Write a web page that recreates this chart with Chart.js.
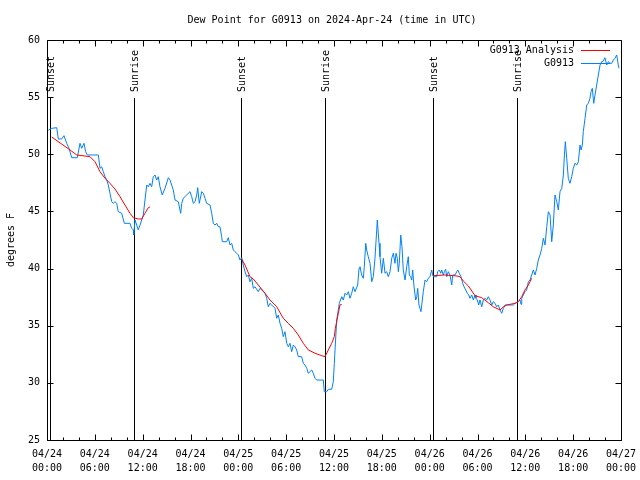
<!DOCTYPE html>
<html>
<head>
<meta charset="utf-8">
<script src="https://cdn.jsdelivr.net/npm/chart.js@4/dist/chart.umd.min.js"></script>
<style>
html,body{margin:0;padding:0;background:#fff;}
canvas{display:block;}
</style>
</head>
<body>
<canvas id="c" width="640" height="480"></canvas>
<script>
// Hours since 2024-04-24 00:00 UTC
const xTickDates = ["04/24","04/24","04/24","04/24","04/25","04/25","04/25","04/25","04/26","04/26","04/26","04/26","04/27"];
const xTickTimes = ["00:00","06:00","12:00","18:00","00:00","06:00","12:00","18:00","00:00","06:00","12:00","18:00","00:00"];

const sunLabels = ["Sunset","Sunrise","Sunset","Sunrise","Sunset","Sunrise"];
const sunHours  = [0.41, 10.95, 24.37, 34.91, 48.46, 58.99];

const blueHours = [0.16,0.59,1.22,1.42,1.84,2.13,2.47,2.76,3.10,3.80,4.14,4.35,4.64,4.85,5.06,6.44,6.65,6.86,7.06,7.28,7.49,7.69,7.90,8.12,8.32,8.53,8.74,8.94,9.37,9.70,10.41,10.62,10.83,10.88,11.04,11.25,11.45,11.67,11.88,12.08,12.29,12.51,12.71,12.92,13.13,13.33,13.55,13.76,13.96,14.17,14.46,14.80,15.22,15.43,15.64,15.84,16.06,16.47,16.68,16.77,16.90,17.10,17.52,17.94,18.15,18.35,18.57,18.78,18.90,19.10,19.41,19.61,19.82,20.03,20.45,20.66,20.86,21.07,21.29,21.49,21.70,21.91,21.99,22.54,22.74,22.96,23.17,23.37,23.58,23.80,24.00,24.21,24.42,24.62,24.84,25.05,25.25,25.46,25.68,25.88,26.09,26.50,26.72,27.35,27.56,27.76,27.97,28.19,28.60,28.81,29.01,29.23,29.44,29.64,29.85,30.07,30.27,30.48,30.69,30.90,31.11,31.32,31.52,31.95,32.15,32.36,32.58,32.78,33.20,33.40,33.62,33.83,34.66,34.78,35.09,35.29,35.71,35.91,36.04,36.13,36.34,36.54,36.67,36.88,36.97,37.17,37.38,37.59,37.80,38.01,38.22,38.42,38.64,38.97,39.14,39.26,39.47,39.68,39.80,39.98,40.10,40.30,40.52,40.73,40.93,41.14,41.36,41.43,41.65,41.77,41.98,42.19,42.40,42.61,42.81,43.03,43.24,43.44,43.65,43.78,43.94,44.07,44.19,44.37,44.53,44.69,44.91,45.12,45.32,45.45,45.62,45.75,45.87,46.04,46.25,46.38,46.50,46.66,46.91,47.08,47.20,47.42,47.63,47.83,48.04,48.26,48.38,48.46,48.88,49.01,49.21,49.39,49.51,49.71,49.84,50.01,50.14,50.34,50.55,50.77,50.89,51.18,51.40,51.52,51.72,51.93,52.15,52.31,52.52,52.72,52.90,53.06,53.28,53.48,53.69,53.81,53.98,54.15,54.31,54.53,54.73,54.94,55.16,55.36,55.57,55.78,55.98,56.20,56.41,56.61,56.82,57.04,57.24,57.45,58.49,58.71,59.12,59.33,59.46,59.55,59.75,59.96,60.17,60.38,60.59,60.80,61.00,61.22,61.43,61.63,61.84,62.06,62.26,62.47,62.69,62.89,63.10,63.31,63.51,63.72,63.94,64.14,64.35,64.57,64.77,64.90,65.02,65.19,65.39,65.60,65.82,66.02,66.23,66.45,66.65,66.86,66.99,67.15,67.27,67.49,67.70,67.90,68.11,68.24,68.40,68.58,68.74,68.95,69.16,69.37,69.58,69.78,69.99,70.21,70.41,70.62,70.83,71.04,71.25,71.46,71.66,71.75];
const blueDew = [52.10,52.27,52.33,51.34,51.34,51.63,50.96,50.52,49.70,49.70,50.96,50.52,50.96,50.23,49.94,49.94,48.77,48.91,48.48,48.04,47.75,47.31,46.59,45.85,45.71,45.85,45.71,44.98,44.84,43.96,43.96,43.52,43.38,42.94,44.25,43.81,43.38,43.81,44.25,44.69,46.00,47.31,47.16,47.46,47.16,48.04,48.19,47.75,48.04,47.16,46.44,47.02,47.95,47.75,47.31,46.88,46.00,45.85,45.13,44.84,45.71,46.15,46.44,46.73,46.29,45.71,45.85,46.44,47.08,45.71,46.73,46.59,46.15,45.71,45.56,44.84,43.96,43.81,43.96,43.66,43.66,42.79,42.35,42.35,42.70,42.06,42.21,41.63,41.48,41.34,41.19,40.75,40.95,40.31,39.73,39.29,39.44,38.85,39.15,38.27,38.41,37.98,38.27,37.84,37.40,36.66,36.96,36.81,36.52,35.65,35.94,35.21,34.77,34.04,34.48,33.46,33.16,33.46,32.73,33.31,33.16,32.88,32.29,32.29,31.71,31.56,31.27,30.84,31.13,30.84,30.40,30.25,30.25,29.23,29.23,29.44,29.44,30.10,31.71,32.88,35.50,36.38,36.96,37.40,37.54,37.25,37.84,37.69,37.98,37.40,37.84,38.41,37.98,38.56,40.02,40.16,39.44,39.15,40.16,42.21,41.63,41.04,40.46,38.85,39.29,40.90,43.38,44.25,42.21,41.04,39.59,40.90,39.59,39.73,39.29,39.73,40.90,41.34,40.46,41.34,40.90,39.73,40.46,42.94,41.91,39.88,39.00,40.16,41.04,39.44,39.29,39.00,39.88,38.41,37.25,37.54,38.27,36.81,36.23,37.25,37.98,39.00,38.85,39.15,39.29,39.88,39.44,39.29,39.29,39.73,39.88,39.59,39.88,39.44,39.73,39.94,39.29,39.73,39.44,38.56,39.44,39.44,39.73,39.88,39.59,39.29,38.71,38.41,38.13,37.84,37.69,37.40,37.69,37.25,37.69,37.40,37.25,36.81,37.25,36.66,37.25,37.40,37.25,37.54,37.25,36.81,37.10,36.96,36.66,36.81,36.38,36.09,36.52,36.81,36.81,36.96,37.10,37.25,36.87,37.40,37.69,37.98,38.13,38.85,39.00,39.44,39.88,39.44,40.02,40.75,41.19,41.77,42.65,42.06,43.66,44.98,44.69,42.35,43.81,46.44,45.85,45.13,46.73,47.02,48.19,49.94,51.10,49.65,47.90,47.46,48.04,48.77,49.21,49.06,49.35,50.81,50.38,50.81,51.98,53.15,54.31,54.46,54.90,55.48,55.77,54.46,55.19,56.06,56.94,57.81,58.10,58.16,58.45,57.81,58.10,57.96,57.96,58.25,58.40,58.69,57.81,57.52];

// Analysis series; null marks a gap between segments
const redHours = [0.59,2.89,3.73,5.39,6.02,6.65,7.28,7.90,8.53,9.16,9.78,10.41,10.83,11.45,11.88,12.29,12.71,12.92,
  18.0,
  24.42,24.84,25.46,25.88,26.50,27.35,27.97,28.81,29.64,30.27,30.90,31.52,32.15,32.78,33.62,34.46,34.87,35.29,35.71,36.04,36.17,36.54,36.75,36.97,
  42.0,
  48.46,49.92,51.40,51.81,52.22,52.85,53.69,54.53,55.36,55.98,56.82,57.24,57.64,58.71,59.12,59.55,59.96,60.38,60.80];
const redDew = [51.51,50.38,49.94,49.79,49.35,48.48,47.90,47.46,46.96,46.29,45.56,44.84,44.45,44.34,44.34,44.84,45.33,45.39,
  null,
  40.84,40.31,39.29,39.09,38.56,37.84,37.25,36.66,35.65,35.21,34.77,34.19,33.46,32.88,32.59,32.38,32.29,32.88,33.46,34.04,34.77,36.09,36.81,36.87,
  null,
  39.38,39.44,39.35,39.29,38.91,38.48,37.63,37.45,37.01,36.66,36.38,36.64,36.81,36.96,37.10,37.54,38.13,38.56,39.15];

const titleText = "Dew Point for G0913 on 2024-Apr-24 (time in UTC)";
const yTitle = "degrees F";
const seriesNames = ["G0913 Analysis", "G0913"];
const seriesColors = ["rgb(255,0,0)", "rgb(0,128,255)"];

const FONT = '10px "DejaVu Sans Mono", "Liberation Mono", monospace';

const toPts = (xs, ys) => xs.map((x, i) => ({x: x, y: ys[i]}));

const decor = {
  id: 'decor',
  beforeDatasetsDraw(chart) {
    const ctx = chart.ctx, xs = chart.scales.x, a = chart.chartArea;
    ctx.save();
    ctx.strokeStyle = '#000';
    ctx.lineWidth = 1;
    ctx.fillStyle = '#000';
    ctx.font = FONT;
    sunHours.forEach((h, i) => {
      const px = Math.round(xs.getPixelForValue(h)) + 0.5;
      ctx.beginPath();
      ctx.moveTo(px, 98);
      ctx.lineTo(px, a.bottom);
      ctx.stroke();
      ctx.save();
      ctx.translate(px + 1, 92);
      ctx.rotate(-Math.PI / 2);
      ctx.textAlign = 'left';
      ctx.textBaseline = 'middle';
      ctx.fillText(sunLabels[i], 0, 0);
      ctx.restore();
    });
    ctx.restore();
  },
  afterDraw(chart) {
    const ctx = chart.ctx, xs = chart.scales.x, ys = chart.scales.y, a = chart.chartArea;
    const L = Math.round(a.left) + 0.5, R = Math.round(a.right) + 0.5;
    const T = Math.round(a.top) + 0.5, B = Math.round(a.bottom) + 0.5;
    ctx.save();
    ctx.strokeStyle = '#000';
    ctx.lineWidth = 1;
    ctx.beginPath();
    ctx.rect(L, T, R - L, B - T);
    for (let h = 0; h <= 72; h += 2) {
      const px = Math.round(xs.getPixelForValue(h)) + 0.5;
      const len = (h % 6 === 0) ? 6 : 3;
      ctx.moveTo(px, B); ctx.lineTo(px, B - len);
      ctx.moveTo(px, T); ctx.lineTo(px, T + len);
    }
    for (let v = 25; v <= 60; v += 5) {
      const py = Math.round(ys.getPixelForValue(v)) + 0.5;
      ctx.moveTo(L, py); ctx.lineTo(L + 6, py);
      ctx.moveTo(R, py); ctx.lineTo(R - 6, py);
    }
    ctx.stroke();

    ctx.fillStyle = '#000';
    ctx.font = FONT;
    ctx.textAlign = 'center';
    ctx.textBaseline = 'middle';
    ctx.fillText(titleText, 332, 20);
    ctx.save();
    ctx.translate(11, 240);
    ctx.rotate(-Math.PI / 2);
    ctx.textAlign = 'center';
    ctx.textBaseline = 'middle';
    ctx.fillText(yTitle, 0, 0);
    ctx.restore();
    ctx.textAlign = 'right';
    ctx.textBaseline = 'middle';
    seriesNames.forEach((n, i) => {
      const yy = 50 + i * 13;
      ctx.fillStyle = '#000';
      ctx.fillText(n, 574, yy);
      ctx.strokeStyle = seriesColors[i];
      ctx.beginPath();
      ctx.moveTo(581, yy + 0.5);
      ctx.lineTo(610, yy + 0.5);
      ctx.stroke();
    });
    ctx.restore();
  }
};

new Chart(document.getElementById('c'), {
  type: 'line',
  data: {
    datasets: [
      {
        label: seriesNames[0],
        data: toPts(redHours, redDew),
        borderColor: seriesColors[0],
        borderWidth: 1,
        pointRadius: 0,
        tension: 0,
        spanGaps: false,
        fill: false
      },
      {
        label: seriesNames[1],
        data: toPts(blueHours, blueDew),
        borderColor: seriesColors[1],
        borderWidth: 1,
        pointRadius: 0,
        tension: 0,
        fill: false
      }
    ]
  },
  options: {
    responsive: false,
    animation: false,
    devicePixelRatio: 1,
    layout: { padding: { top: 40, right: 19, left: 0, bottom: 0 } },
    plugins: { legend: { display: false }, tooltip: { enabled: false }, title: { display: false } },
    scales: {
      x: {
        type: 'linear',
        min: 0, max: 72,
        afterFit(s) { s.height = 40; s.paddingLeft = 0; s.paddingRight = 0; },
        grid: { display: false, drawTicks: false },
        border: { display: false },
        ticks: {
          stepSize: 6,
          autoSkip: false,
          maxRotation: 0,
          padding: 7,
          color: '#000',
          font: { family: '"DejaVu Sans Mono", "Liberation Mono", monospace', size: 10, lineHeight: 1.4 },
          callback(v) { const i = Math.round(v / 6); return [xTickDates[i], xTickTimes[i]]; }
        }
      },
      y: {
        min: 25, max: 60,
        afterFit(s) { s.width = 47; s.paddingTop = 0; s.paddingBottom = 0; },
        grid: { display: false, drawTicks: false },
        border: { display: false },
        ticks: {
          stepSize: 5,
          padding: 7,
          color: '#000',
          font: { family: '"DejaVu Sans Mono", "Liberation Mono", monospace', size: 10 }
        }
      }
    }
  },
  plugins: [decor]
});
</script>
</body>
</html>
